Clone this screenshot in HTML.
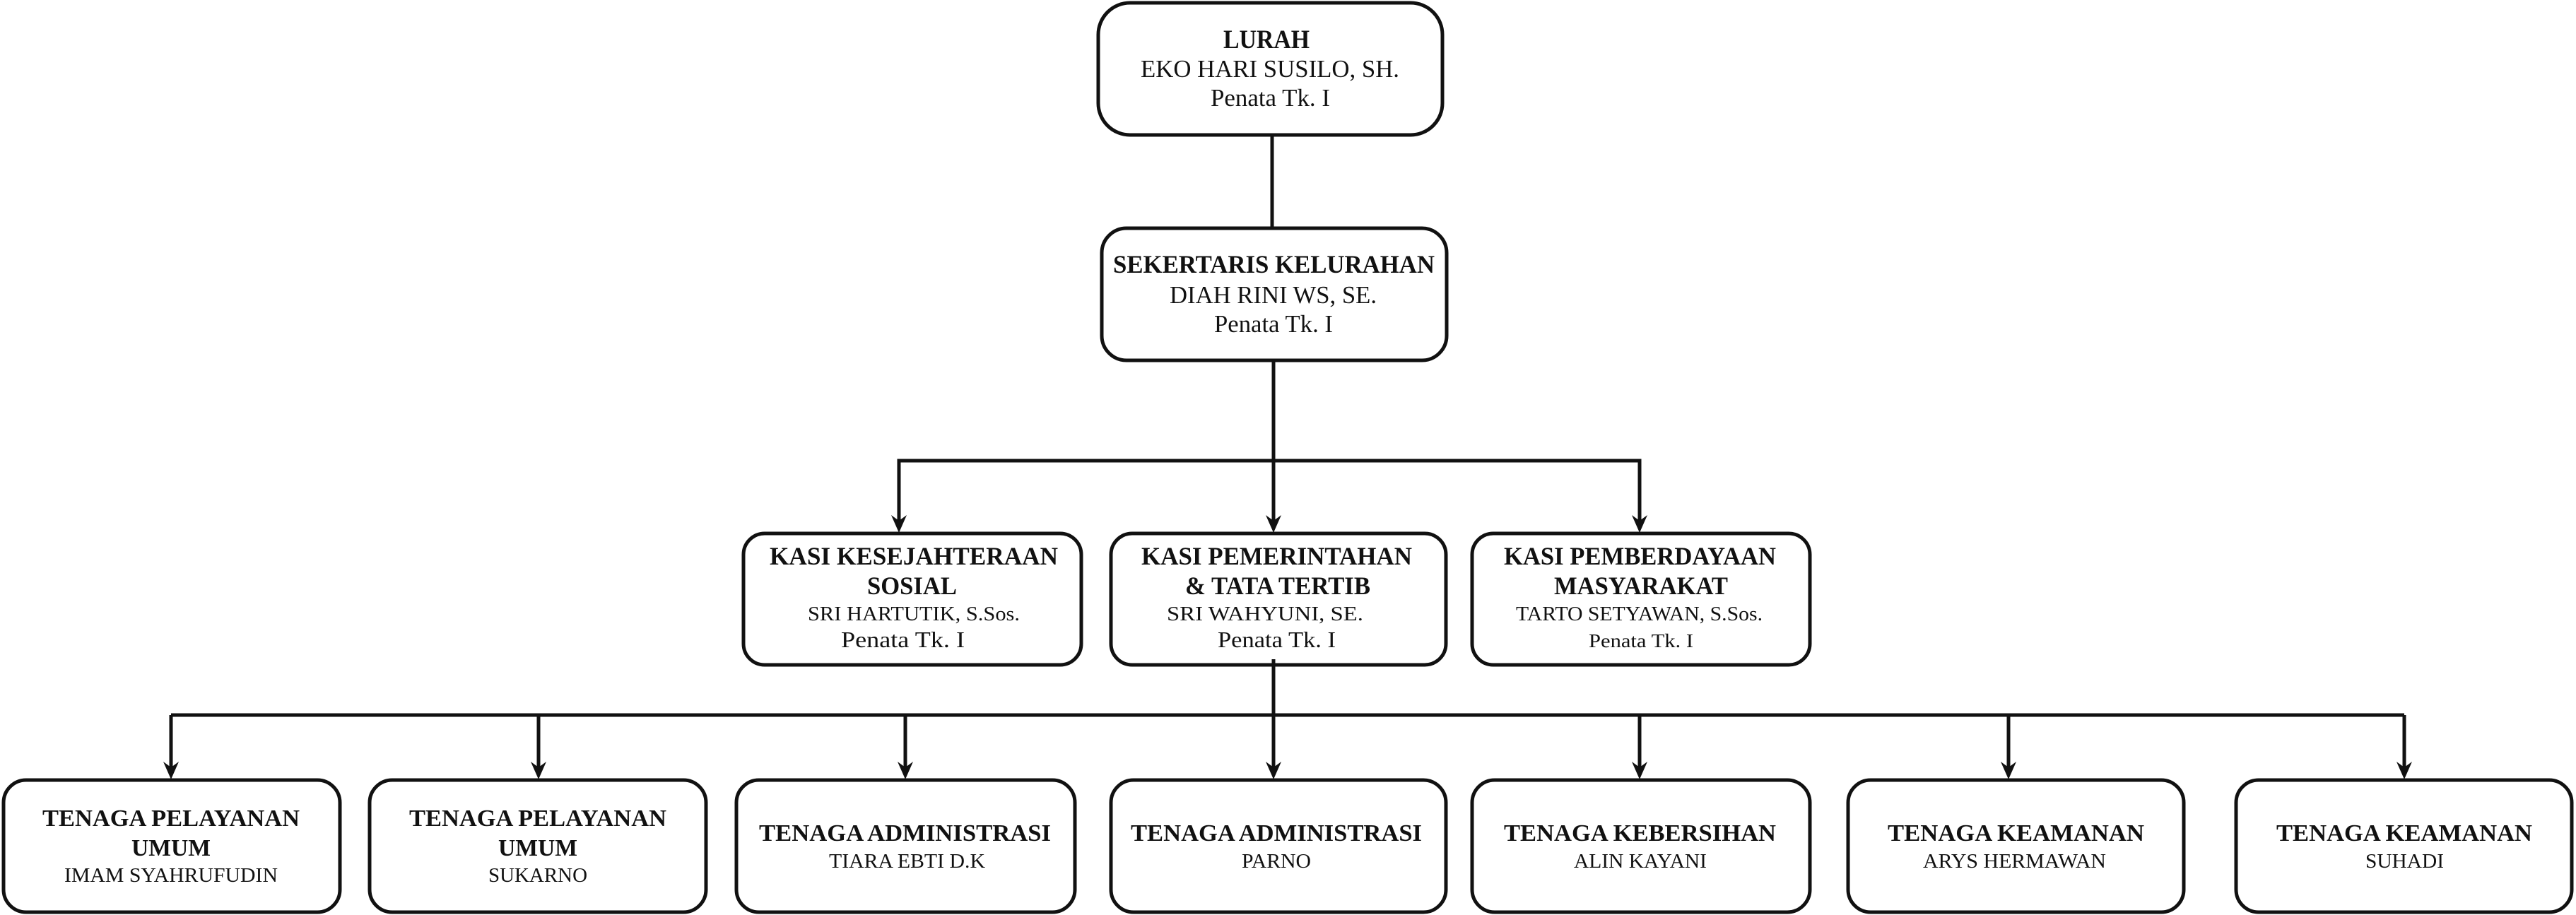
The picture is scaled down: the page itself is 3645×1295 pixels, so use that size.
<!DOCTYPE html>
<html><head><meta charset="utf-8"><style>html,body{margin:0;padding:0;background:#fff}svg{display:block}</style></head>
<body>
<svg width="3645" height="1295" viewBox="0 0 3645 1295" xmlns="http://www.w3.org/2000/svg" font-family="'Liberation Serif', serif" fill="#111">
<g stroke="#111" stroke-width="5" fill="none">
<line x1="1800" y1="193" x2="1800" y2="321"/>
<line x1="1802" y1="512" x2="1802" y2="652"/>
<polyline points="1272,745 1272,652 2320,652 2320,745" />
<line x1="1802" y1="652" x2="1802" y2="745"/>
<line x1="1802" y1="933" x2="1802" y2="1095"/>
<line x1="242" y1="1012" x2="3402" y2="1012"/>
<line x1="242" y1="1012" x2="242" y2="1095"/>
<line x1="762" y1="1012" x2="762" y2="1095"/>
<line x1="1281" y1="1012" x2="1281" y2="1095"/>
<line x1="2320" y1="1012" x2="2320" y2="1095"/>
<line x1="2842" y1="1012" x2="2842" y2="1095"/>
<line x1="3402" y1="1012" x2="3402" y2="1095"/>
</g>
<g fill="#111">
<path d="M1261,729 L1272,737 L1283,729 L1272,754Z"/>
<path d="M1791,729 L1802,737 L1813,729 L1802,754Z"/>
<path d="M2309,729 L2320,737 L2331,729 L2320,754Z"/>
<path d="M231,1078 L242,1086 L253,1078 L242,1103Z"/>
<path d="M751,1078 L762,1086 L773,1078 L762,1103Z"/>
<path d="M1270,1078 L1281,1086 L1292,1078 L1281,1103Z"/>
<path d="M1791,1078 L1802,1086 L1813,1078 L1802,1103Z"/>
<path d="M2309,1078 L2320,1086 L2331,1078 L2320,1103Z"/>
<path d="M2831,1078 L2842,1086 L2853,1078 L2842,1103Z"/>
<path d="M3391,1078 L3402,1086 L3413,1078 L3402,1103Z"/>
</g>
<g stroke="#111" stroke-width="5" fill="#fff">
<rect x="1554" y="4" width="487" height="187" rx="45"/>
<rect x="1559" y="323" width="488" height="187" rx="35"/>
<rect x="1052" y="755" width="478" height="186" rx="30"/>
<rect x="1572" y="755" width="474" height="186" rx="30"/>
<rect x="2083" y="755" width="478" height="186" rx="30"/>
<rect x="5" y="1104" width="476" height="187" rx="32"/>
<rect x="523" y="1104" width="476" height="187" rx="32"/>
<rect x="1042" y="1104" width="479" height="187" rx="32"/>
<rect x="1572" y="1104" width="474" height="187" rx="32"/>
<rect x="2083" y="1104" width="478" height="187" rx="32"/>
<rect x="2615" y="1104" width="475" height="187" rx="32"/>
<rect x="3164" y="1104" width="475" height="187" rx="32"/>
</g>
<line x1="1802" y1="933" x2="1802" y2="945" stroke="#111" stroke-width="5"/>
<g>
<text x="1731" y="68" font-size="37" font-weight="bold" textLength="122" lengthAdjust="spacingAndGlyphs">LURAH</text>
<text x="1614" y="109" font-size="35" textLength="366" lengthAdjust="spacingAndGlyphs">EKO HARI SUSILO, SH.</text>
<text x="1713" y="150" font-size="35" textLength="169" lengthAdjust="spacingAndGlyphs">Penata Tk. I</text>

<text x="1575" y="386" font-size="36" font-weight="bold" textLength="455" lengthAdjust="spacingAndGlyphs">SEKERTARIS KELURAHAN</text>
<text x="1655" y="429" font-size="35" textLength="293" lengthAdjust="spacingAndGlyphs">DIAH RINI WS, SE.</text>
<text x="1718" y="470" font-size="35" textLength="168" lengthAdjust="spacingAndGlyphs">Penata Tk. I</text>

<text x="1089" y="799" font-size="36" font-weight="bold" textLength="408" lengthAdjust="spacingAndGlyphs">KASI KESEJAHTERAAN</text>
<text x="1227" y="841" font-size="36" font-weight="bold" textLength="127" lengthAdjust="spacingAndGlyphs">SOSIAL</text>
<text x="1143" y="878" font-size="28" textLength="300" lengthAdjust="spacingAndGlyphs">SRI HARTUTIK, S.Sos.</text>
<text x="1190" y="916" font-size="32" textLength="175" lengthAdjust="spacingAndGlyphs">Penata Tk. I</text>

<text x="1615" y="799" font-size="36" font-weight="bold" textLength="383" lengthAdjust="spacingAndGlyphs">KASI PEMERINTAHAN</text>
<text x="1677" y="841" font-size="36" font-weight="bold" textLength="262" lengthAdjust="spacingAndGlyphs">&amp; TATA TERTIB</text>
<text x="1651" y="878" font-size="28" textLength="278" lengthAdjust="spacingAndGlyphs">SRI WAHYUNI, SE.</text>
<text x="1723" y="916" font-size="32" textLength="167" lengthAdjust="spacingAndGlyphs">Penata Tk. I</text>

<text x="2128" y="799" font-size="36" font-weight="bold" textLength="385" lengthAdjust="spacingAndGlyphs">KASI PEMBERDAYAAN</text>
<text x="2199" y="841" font-size="36" font-weight="bold" textLength="246" lengthAdjust="spacingAndGlyphs">MASYARAKAT</text>
<text x="2145" y="878" font-size="28" textLength="349" lengthAdjust="spacingAndGlyphs">TARTO SETYAWAN, S.Sos.</text>
<text x="2248" y="916" font-size="27" textLength="148" lengthAdjust="spacingAndGlyphs">Penata Tk. I</text>

<text x="60" y="1169" font-size="34" font-weight="bold" textLength="364" lengthAdjust="spacingAndGlyphs">TENAGA PELAYANAN</text>
<text x="186" y="1211" font-size="34" font-weight="bold" textLength="112" lengthAdjust="spacingAndGlyphs">UMUM</text>
<text x="91" y="1248" font-size="28" textLength="302" lengthAdjust="spacingAndGlyphs">IMAM SYAHRUFUDIN</text>

<text x="579" y="1169" font-size="34" font-weight="bold" textLength="364" lengthAdjust="spacingAndGlyphs">TENAGA PELAYANAN</text>
<text x="705" y="1211" font-size="34" font-weight="bold" textLength="112" lengthAdjust="spacingAndGlyphs">UMUM</text>
<text x="691" y="1248" font-size="28" textLength="140" lengthAdjust="spacingAndGlyphs">SUKARNO</text>

<text x="1074" y="1190" font-size="34" font-weight="bold" textLength="413" lengthAdjust="spacingAndGlyphs">TENAGA ADMINISTRASI</text>
<text x="1173" y="1228" font-size="28" textLength="221" lengthAdjust="spacingAndGlyphs">TIARA EBTI D.K</text>

<text x="1600" y="1190" font-size="34" font-weight="bold" textLength="412" lengthAdjust="spacingAndGlyphs">TENAGA ADMINISTRASI</text>
<text x="1757" y="1228" font-size="28" textLength="98" lengthAdjust="spacingAndGlyphs">PARNO</text>

<text x="2128" y="1190" font-size="34" font-weight="bold" textLength="385" lengthAdjust="spacingAndGlyphs">TENAGA KEBERSIHAN</text>
<text x="2227" y="1228" font-size="28" textLength="188" lengthAdjust="spacingAndGlyphs">ALIN KAYANI</text>

<text x="2671" y="1190" font-size="34" font-weight="bold" textLength="363" lengthAdjust="spacingAndGlyphs">TENAGA KEAMANAN</text>
<text x="2721" y="1228" font-size="28" textLength="259" lengthAdjust="spacingAndGlyphs">ARYS HERMAWAN</text>

<text x="3221" y="1190" font-size="34" font-weight="bold" textLength="362" lengthAdjust="spacingAndGlyphs">TENAGA KEAMANAN</text>
<text x="3347" y="1228" font-size="28" textLength="111" lengthAdjust="spacingAndGlyphs">SUHADI</text>
</g>
</svg>
</body></html>
